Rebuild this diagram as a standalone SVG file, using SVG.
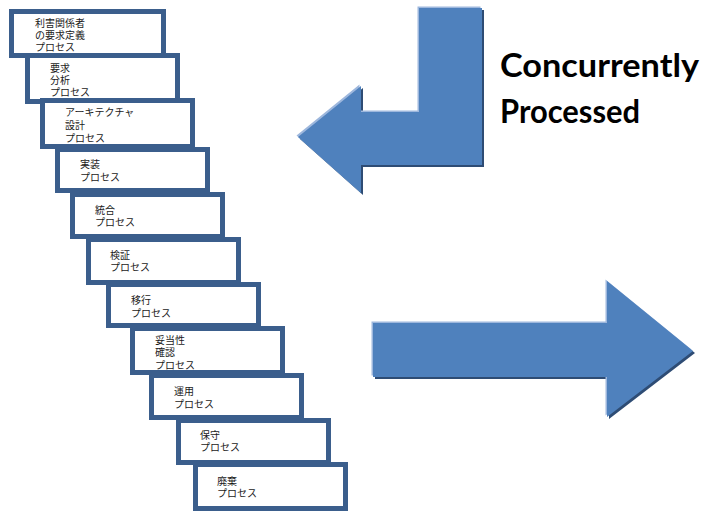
<svg xmlns="http://www.w3.org/2000/svg" width="703" height="512" viewBox="0 0 703 512">
<style>
.box{fill:#fff;stroke:#3B5E8C;stroke-width:5}
.lbl{font-family:"Noto Sans CJK JP","Noto Sans CJK SC",sans-serif;font-size:10px;fill:#1a1a1a}
.big{font-family:Lato,"Open Sans",sans-serif;font-weight:bold;font-size:32px;fill:#000}
.arrow{fill:#4F81BD}
.hl{fill:#9DB7DD}
.sh{fill:#2E4C74}
</style>
<defs>
<polygon id="larrow" points="419,8 482,8 482,165 361,165 361,193 298,137 361,86 361,112 419,112"/>
<polygon id="rarrow" points="373,323 607,323 607,281 693,351 607,417 607,377 373,377"/>
</defs>
<g id="connectors">
<use href="#larrow" class="sh" transform="translate(2,2)"/>
<use href="#larrow" class="hl" transform="translate(-1.5,-1.5)"/>
<use href="#larrow" class="arrow"/>
<use href="#rarrow" class="sh" transform="translate(2,2)"/>
<use href="#rarrow" class="hl" transform="translate(-1.5,-1.5)"/>
<use href="#rarrow" class="arrow"/>
</g>
<g id="n1"><rect class="box" x="11.5" y="11.5" width="152" height="44"/>
<text class="lbl" x="35" y="27">利害関係者</text><text class="lbl" x="35" y="39">の要求定義</text><text class="lbl" x="35" y="51">プロセス</text></g>
<g id="n2"><rect class="box" x="27.5" y="55.5" width="150" height="46"/>
<text class="lbl" x="50" y="72">要求</text><text class="lbl" x="50" y="84">分析</text><text class="lbl" x="50" y="96">プロセス</text></g>
<g id="n3"><rect class="box" x="42.5" y="100.5" width="150" height="46"/>
<text class="lbl" x="65" y="116">アーキテクチャ</text><text class="lbl" x="65" y="129">設計</text><text class="lbl" x="65" y="142">プロセス</text></g>
<g id="n4"><rect class="box" x="57.5" y="149.5" width="150" height="41"/>
<text class="lbl" x="80" y="168">実装</text><text class="lbl" x="80" y="181">プロセス</text></g>
<g id="n5"><rect class="box" x="72.5" y="194.5" width="150" height="42"/>
<text class="lbl" x="95" y="214">統合</text><text class="lbl" x="95" y="226">プロセス</text></g>
<g id="n6"><rect class="box" x="88.5" y="239.5" width="150" height="43"/>
<text class="lbl" x="110" y="259">検証</text><text class="lbl" x="110" y="271">プロセス</text></g>
<g id="n7"><rect class="box" x="108.5" y="284.5" width="150" height="41"/>
<text class="lbl" x="131" y="304">移行</text><text class="lbl" x="131" y="317">プロセス</text></g>
<g id="n8"><rect class="box" x="132.5" y="328.5" width="150" height="44"/>
<text class="lbl" x="155" y="344">妥当性</text><text class="lbl" x="155" y="356">確認</text><text class="lbl" x="155" y="369">プロセス</text></g>
<g id="n9"><rect class="box" x="151.5" y="375.5" width="150" height="42"/>
<text class="lbl" x="174" y="395">運用</text><text class="lbl" x="174" y="408">プロセス</text></g>
<g id="n10"><rect class="box" x="178.5" y="420.5" width="150" height="42"/>
<text class="lbl" x="200" y="439">保守</text><text class="lbl" x="200" y="451">プロセス</text></g>
<g id="n11"><rect class="box" x="195.5" y="464.5" width="150" height="44"/>
<text class="lbl" x="217" y="485">廃棄</text><text class="lbl" x="217" y="497">プロセス</text></g>
<g id="title">
<text class="big" x="500" y="77" textLength="199" lengthAdjust="spacingAndGlyphs">Concurrently</text>
<text class="big" x="500" y="123" textLength="140" lengthAdjust="spacingAndGlyphs">Processed</text>
</g>
</svg>
